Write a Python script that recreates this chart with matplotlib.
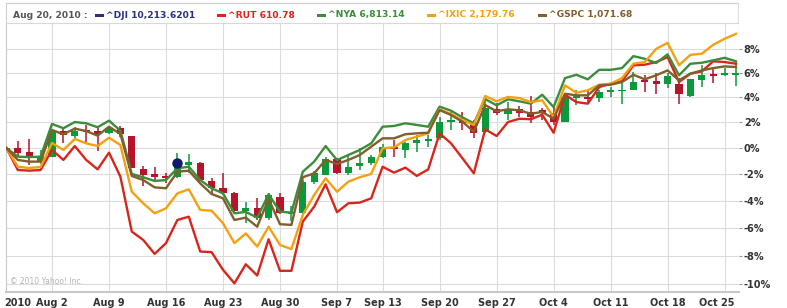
import numpy as np
import pandas as pd
import matplotlib
matplotlib.use("Agg")
import matplotlib.pyplot as plt
from matplotlib.patches import Rectangle
from matplotlib.lines import Line2D
from matplotlib.transforms import ScaledTranslation

# ---------------- data (percent change vs. Jul 27, 2010 close) ----------------
dates = [d for d in pd.bdate_range("2010-07-27", "2010-10-26") if d != pd.Timestamp("2010-09-06")]

tick_labels = ["Aug 2", "Aug 9", "Aug 16", "Aug 23", "Aug 30", "Sep 7", "Sep 13",
               "Sep 20", "Sep 27", "Oct 4", "Oct 11", "Oct 18", "Oct 25"]
year_label = "2010"

rut = [0, -1.69, -1.74, -1.69, -0.15, -0.92, 0.15, -0.92, -1.64, -0.36, -2.20, -6.27, -6.87,
       -7.87, -7.10, -5.42, -5.18, -7.70, -7.75, -9.00, -9.95, -8.61, -9.40, -6.82, -9.07,
       -9.07, -5.54, -4.44, -2.77, -4.85, -4.19, -4.14, -3.82, -1.44, -1.89, -1.51, -2.14,
       -1.64, 1.14, 0.36, -0.79, -1.94, 1.46, 0.93, 2.03, 2.29, 2.25, 2.61, 1.19, 4.21, 3.62,
       3.49, 4.83, 5.10, 5.30, 6.61, 6.66, 6.88, 7.29, 5.24, 5.92, 6.11, 6.94, 6.88, 6.74]
nya = [0, -0.67, -0.70, -0.67, 1.88, 1.54, 2.03, 1.93, 1.62, 2.14, 1.35, -1.99, -2.24, -2.52,
       -2.45, -1.56, -1.44, -2.45, -3.07, -3.45, -4.93, -4.83, -5.25, -3.52, -4.81, -4.88,
       -1.82, -1.05, 0.15, -0.93, -0.54, -0.15, 0.36, 1.66, 1.72, 1.93, 1.80, 1.66, 3.25,
       2.93, 2.40, 1.93, 3.86, 3.36, 3.84, 3.68, 3.49, 4.21, 3.22, 5.56, 5.83, 5.46, 6.24,
       6.24, 6.38, 7.37, 7.15, 6.80, 7.52, 5.79, 6.74, 6.82, 7.02, 7.23, 6.94]
ixic = [0, -1.44, -1.54, -1.46, 0.39, -0.15, 0.70, 0.36, 0.15, 0.80, 0.23, -3.33, -4.19, -4.93,
        -4.56, -3.45, -3.15, -4.68, -4.74, -5.66, -7.10, -6.40, -7.35, -5.91, -7.23, -7.53,
        -5.05, -3.57, -2.32, -3.33, -2.57, -2.24, -1.99, -0.02, 0.05, 0.62, 0.88, 1.14, 3.04,
        2.67, 2.19, 1.80, 4.11, 3.68, 4.03, 3.94, 3.62, 3.76, 2.43, 4.97, 4.37, 4.57, 5.02,
        5.10, 5.56, 6.74, 6.88, 7.98, 8.48, 6.61, 7.48, 7.57, 8.32, 8.82, 9.24]
gspc = [0, -0.92, -1.05, -1.05, 1.40, 1.07, 1.51, 1.32, 0.96, 1.66, 1.09, -2.14, -2.45, -3.00,
        -3.07, -1.82, -1.74, -2.70, -3.50, -3.82, -5.42, -5.25, -5.91, -3.87, -5.73, -5.78,
        -2.24, -1.94, -0.92, -1.23, -0.92, -0.54, 0.10, 0.75, 0.75, 1.07, 1.14, 1.19, 2.98,
        2.59, 2.06, 1.27, 3.38, 2.88, 3.04, 2.96, 2.69, 2.83, 2.29, 4.29, 4.16, 4.16, 4.97,
        5.02, 5.24, 5.83, 5.46, 5.79, 6.19, 5.38, 5.92, 6.19, 6.38, 6.52, 6.47]

# ^DJI candlesticks (open, high, low, close)
dji_open = [-0.30, -0.02, -0.29, -1.05, -0.67, 1.32, 0.93, 1.40, 1.32, 1.14, 1.54, 0.93, -1.64,
            -2.00, -2.14, -2.20, -1.31, -1.18, -2.52, -3.07, -3.40, -4.74, -4.56, -5.30, -3.75,
            -5.00, -4.93, -2.57, -2.07, -0.87, -1.94, -1.38, -1.18, -0.72, 0.05, -0.15, 0.36,
            0.57, 0.75, 2.06, 2.12, 1.93, 1.27, 3.06, 2.63, 3.03, 2.85, 2.95, 2.77, 2.06, 3.92,
            4.05, 3.92, 4.45, 4.48, 4.62, 5.32, 5.32, 5.05, 5.05, 4.12, 5.40, 5.88, 5.80, 5.85]
dji_high = [0.93, 0.54, 0.67, -0.15, 1.42, 1.54, 1.66, 1.80, 1.54, 1.62, 1.72, 0.95, -1.38,
            -1.43, -1.90, -0.36, -0.46, -1.10, -2.32, -1.94, -3.35, -4.07, -3.82, -3.40, -3.40,
            -4.40, -2.45, -1.80, -0.70, -0.75, -0.54, -0.02, -0.55, 0.30, 0.62, 0.49, 1.00,
            1.00, 2.45, 2.85, 2.85, 2.19, 3.84, 3.51, 3.64, 3.30, 4.10, 3.12, 3.40, 4.10, 4.60,
            4.50, 4.60, 4.85, 5.40, 6.10, 5.80, 5.95, 6.00, 5.60, 5.50, 6.60, 6.35, 6.40, 6.90]
dji_low = [-0.72, -0.62, -1.31, -1.20, -0.72, 0.36, 0.62, 0.49, -0.20, 1.07, 0.88, -1.55, -2.90,
           -2.58, -2.70, -2.30, -1.94, -2.55, -3.57, -3.57, -4.93, -5.66, -5.42, -5.42, -4.98,
           -5.50, -4.98, -2.75, -2.10, -2.00, -2.07, -1.69, -1.30, -0.80, -0.72, -0.79, -0.29,
           0.10, 0.62, 1.40, 1.40, 0.75, 1.14, 2.58, 2.19, 2.45, 1.93, 2.19, 1.80, 2.00, 3.40,
           3.60, 3.60, 4.05, 3.50, 4.60, 4.45, 4.30, 4.75, 3.50, 4.05, 4.85, 5.20, 5.70, 4.90]
dji_close = [0.00, -0.36, -0.62, -0.67, 1.35, 0.99, 1.35, 1.22, 1.09, 1.54, 1.09, -1.51, -2.10,
             -2.25, -2.28, -1.18, -1.10, -2.45, -3.07, -3.45, -4.74, -4.56, -5.30, -3.57, -4.93,
             -4.88, -2.57, -1.94, -0.87, -1.94, -1.44, -1.18, -0.72, 0.05, -0.10, 0.36, 0.62,
             0.70, 2.06, 2.19, 1.93, 1.14, 3.12, 2.72, 3.03, 2.77, 2.45, 2.77, 2.03, 4.00, 4.18,
             3.84, 4.45, 4.50, 4.60, 5.24, 5.24, 5.05, 5.73, 4.25, 5.46, 5.80, 5.73, 6.00, 5.96]

hover_date = "2010-08-17"
header = "Aug 20, 2010 :"
legend_items = [("^DJI", "10,213.6201", "#2b3080"),
                ("^RUT", "610.78", "#d9261c"),
                ("^NYA", "6,813.14", "#3b8c3b"),
                ("^IXIC", "2,179.76", "#f5a00f"),
                ("^GSPC", "1,071.68", "#7f5f2a")]
yticks = [-10, -8, -6, -4, -2, 0, 2, 4, 6, 8]

# ---------------- figure ----------------
W, H = 787, 308
fig = plt.figure(figsize=(W / 100, H / 100), dpi=100)
fig.patch.set_facecolor("white")

L, R, T, B = 6, 739, 23, 292
PX_PER_DAY = 11.4
ax = fig.add_axes([L / W, 1 - B / H, (R - L) / W, (B - T) / H])

fwd = lambda p: np.log1p(np.asarray(p, dtype=float) / 100.0)
inv = lambda v: np.expm1(np.asarray(v, dtype=float)) * 100.0
ax.set_yscale("function", functions=(fwd, inv))

x = np.arange(len(dates))
date_str = [f"{d.strftime('%b')} {d.day}" for d in dates]
tick_pos = [date_str.index(t) for t in tick_labels]

GREEN_C = "#0a9a3c"
RED_C = "#b5142b"
o = np.array(dji_open); h = np.array(dji_high); lo = np.array(dji_low); c = np.array(dji_close)
up = c >= o
cols = np.where(up, GREEN_C, RED_C)
ax.vlines(x, lo, h, colors=cols, linewidth=1.1, zorder=2)
bot = np.minimum(o, c)
top = np.maximum(o, c)
top = np.maximum(top, bot + 0.14)
ax.bar(x, top - bot, bottom=bot, width=0.62, color=cols, linewidth=0, zorder=2)

series = [(rut, legend_items[1][2]), (nya, legend_items[2][2]),
          (ixic, legend_items[3][2]), (gspc, legend_items[4][2])]
for vals, col in series:
    ax.plot(x, vals, color=col, linewidth=1.7, zorder=3, solid_joinstyle="round")

hi = [d.strftime("%Y-%m-%d") for d in dates].index(hover_date)
ax.plot([x[hi]], [dji_close[hi]], "o", color="#101a6a", markersize=6.5, zorder=4)

x0 = -0.035
ax.set_xlim(x0, (R - L) / PX_PER_DAY + x0)
ax.set_ylim(-10.55, 10.16)

ax.set_xticks(tick_pos)
ax.set_xticklabels(tick_labels)
ax.set_xticks([x0 + (18 - L) / PX_PER_DAY], minor=True)
ax.set_xticklabels([year_label], minor=True)
ax.set_yticks(yticks)
ax.set_yticklabels([f"{v}%" for v in yticks])
ax.yaxis.tick_right()
ax.grid(True, which="major", color="#dcdcdc", linewidth=0.8, zorder=0)
ax.set_axisbelow(True)
ax.tick_params(axis="x", which="both", length=0, pad=4, labelsize=7, colors="#333333")
ax.tick_params(axis="y", length=2, pad=1.5, labelsize=7, colors="#333333", width=0.8)
for lab in (ax.get_xticklabels() + ax.get_xticklabels(minor=True) + ax.get_yticklabels()):
    lab.set_fontweight("bold")
    lab.set_color("#333333")
ax.tick_params(axis="y", color="#999999")
last = ax.get_xticklabels()[-1]
last.set_transform(last.get_transform() + ScaledTranslation(-8 / 100, 0, fig.dpi_scale_trans))

for s in ["top", "right"]:
    ax.spines[s].set_visible(False)
ax.spines["left"].set_color("#c8c8c8")
ax.spines["bottom"].set_color("#c8c8c8")
ax.spines["bottom"].set_linewidth(1.5)
ax.spines["left"].set_linewidth(0.8)
ax.axvline(ax.get_xlim()[1], color="#d0d0d0", linewidth=0.8, zorder=1)

ax.text(4 / (R - L), (B - 282) / (B - T), "\u00a9 2010 Yahoo! Inc.", transform=ax.transAxes,
        ha="left", va="center", fontsize=5.5, color="#b4b4b4", zorder=5)

# ---------------- header / legend bar ----------------
def fx(px):
    return px / W

def fy(py):
    return 1 - py / H

fig.add_artist(Line2D([fx(L), fx(738)], [fy(3), fy(3)], color="#d0d0d0", linewidth=0.8))
fig.add_artist(Line2D([fx(L), fx(L)], [fy(3), fy(T)], color="#d0d0d0", linewidth=0.8))
fig.add_artist(Line2D([fx(738), fx(738)], [fy(3), fy(T)], color="#e0e0e0", linewidth=0.8))
fig.add_artist(Line2D([fx(L), fx(738)], [fy(T), fy(T)], color="#d8d8d8", linewidth=0.8))

fig.text(fx(13), fy(15), header, ha="left", va="center", fontsize=6.6, fontweight="bold",
         color="#555555")
item_x = [95, 217, 317, 427, 538]
for (sym, val, col), px in zip(legend_items, item_x):
    fig.add_artist(Rectangle((fx(px), fy(16.7)), 9 / W, 3 / H, color=col, linewidth=0))
    fig.text(fx(px + 11), fy(15), f"{sym} {val}", ha="left", va="center", fontsize=6.6,
             fontweight="bold", color=col)

fig.savefig("out.png", dpi=100, facecolor="white")
